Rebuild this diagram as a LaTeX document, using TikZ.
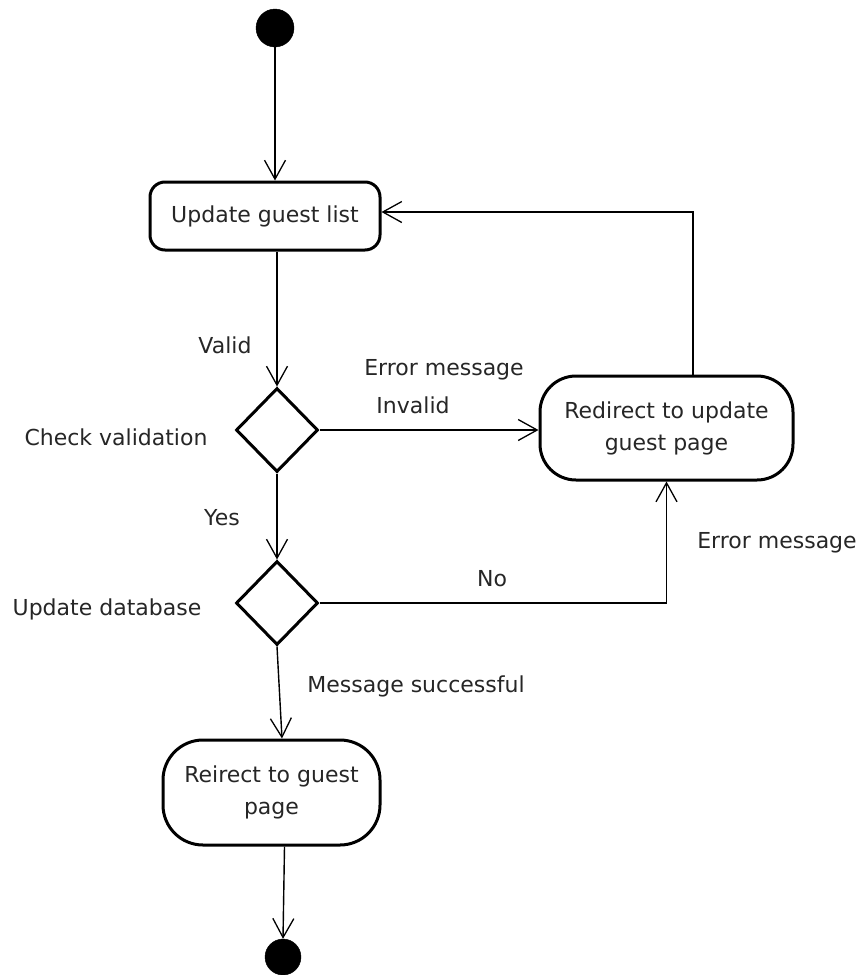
\documentclass[tikz,border=0pt]{standalone}
\usepackage{fontspec}
\setmainfont{DejaVu Sans}
\usetikzlibrary{shapes.geometric,arrows.meta}

\tikzset{
  every node/.style={font=\fontsize{22pt}{32pt}\selectfont, text=black!85},
  act/.style={draw=black, line width=3pt, align=center, inner sep=0pt, fill=white},
  decision/.style={diamond, draw=black, line width=3pt, inner sep=0pt,
    minimum width=82pt, minimum height=84pt},
  dot/.style={circle, fill=black, draw=black, inner sep=0pt, minimum size=#1},
  flow/.style={draw=black, line width=1.4pt,
    -{Straight Barb[length=19pt, width=21pt, line width=1.3pt]}},
  plain/.style={draw=black, line width=1.4pt},
  lbl/.style={inner sep=0pt, text height=16pt, text depth=0pt}
}

\begin{document}
\begin{tikzpicture}[x=1pt, y=-1pt]
  \useasboundingbox (0,0) rectangle (864,975);

  % states
  \node[dot=38pt] (start) at (275,28) {};
  \node[act, minimum width=230pt, minimum height=68pt, rounded corners=15pt]
    (upd) at (265,216) {Update guest list};
  \node[decision] (d1) at (277,430) {};
  \node[act, minimum width=253pt, minimum height=104pt, rounded corners=36pt]
    (red) at (666.5,428) {Redirect to update\\guest page};
  \node[decision] (d2) at (277,603) {};
  \node[act, minimum width=217pt, minimum height=105pt, rounded corners=40pt]
    (fin) at (271.5,792.5) {Reirect to guest\\page};
  \node[dot=36pt] (stop) at (283,957) {};

  % decision names
  \node[lbl] (n1) at (116,437) {Check validation};
  \node[lbl] (n2) at (107,607) {Update database};

  % transitions
  \draw[flow] (start) -- (start |- upd.north);
  \draw[flow] (upd.south -| d1.north) -- (d1.north);
  \draw[flow] (d1.east) -- (d1.east -| red.west);
  \draw[flow] (d1.south) -- (d2.north);
  \draw[flow] ([xshift=26.5pt]red.north) |- ([yshift=4pt]upd.east);
  \draw[flow] (d2.east) -| (red.south);
  \draw[flow] (d2.south) -- ([xshift=10.5pt]fin.north);
  \draw[flow] ([xshift=13pt]fin.south) -- (stop.north);

  % transition labels
  \node[lbl] (valid) at (225,345) {Valid};
  \node[lbl] (err1) at (444,367) {Error message};
  \node[lbl] (inv) at (413,405) {Invalid};
  \node[lbl] (yes) at (222,517) {Yes};
  \node[lbl] (no) at (492,578) {No};
  \node[lbl] (err2) at (777,540) {Error message};
  \node[lbl] (ok) at (416,684) {Message successful};
\end{tikzpicture}
\end{document}
